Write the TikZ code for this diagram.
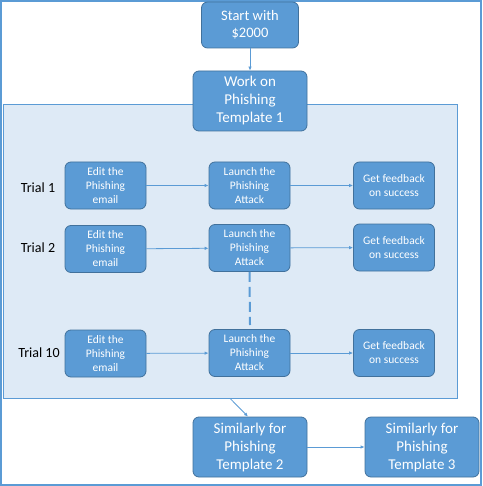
\documentclass[tikz,border=0pt]{standalone}
\usepackage{fontspec}
\setmainfont{Carlito}
\usetikzlibrary{arrows.meta}
\definecolor{boxfill}{HTML}{5B9BD5}
\definecolor{boxedge}{HTML}{41719C}
\definecolor{lightfill}{HTML}{DEEAF6}
\definecolor{linec}{HTML}{5B9BD5}
\tikzset{
  bigbox/.style={draw=boxedge, fill=boxfill, rounded corners=6pt, text=white, align=center, minimum width=114pt, minimum height=60pt, inner sep=1pt, font=\fontsize{15}{18}\selectfont, line width=0.8pt},
  smallbox/.style={draw=boxedge, fill=boxfill, rounded corners=6pt, text=white, align=center, minimum width=81pt, minimum height=47pt, inner sep=1pt, font=\fontsize{11.5}{14}\selectfont, line width=0.8pt},
  trial/.style={font=\fontsize{14}{16}\selectfont, text=black},
  conn/.style={draw=linec, line width=0.8pt, -{Latex[length=4pt,width=3.5pt]}},
}
\begin{document}
\begin{tikzpicture}[x=1pt,y=-1pt]
\useasboundingbox (0,0) rectangle (482,486);
\draw[linec, line width=2pt] (1,1) rectangle (481,485);
\node[draw=linec, fill=lightfill, line width=0.8pt, minimum width=454pt, minimum height=294pt, inner sep=0pt] (cont) at (230,251) {};
\node[bigbox, minimum width=97pt, minimum height=46pt, font=\fontsize{14.5}{17}\selectfont] (start) at (250,25) {Start with\\\$2000};
\node[bigbox] (work) at (250,101) {Work on\\Phishing\\Template 1};
\node[trial] (tr1) at (38,188) {Trial 1};
\node[trial] (tr2) at (38,248) {Trial 2};
\node[trial] (tr10) at (39,353) {Trial 10};
\node[smallbox] (e1) at (105.5,185.5) {Edit the\\Phishing\\email};
\node[smallbox] (l1) at (249.5,185.5) {Launch the\\Phishing\\Attack};
\node[smallbox] (f1) at (394,185.5) {Get feedback\\on success};
\node[smallbox] (e2) at (105.5,249) {Edit the\\Phishing\\email};
\node[smallbox] (l2) at (249.5,248) {Launch the\\Phishing\\Attack};
\node[smallbox] (f2) at (394,247.5) {Get feedback\\on success};
\node[smallbox] (e10) at (105.5,353.5) {Edit the\\Phishing\\email};
\node[smallbox] (l10) at (249.5,353) {Launch the\\Phishing\\Attack};
\node[smallbox] (f10) at (394,353) {Get feedback\\on success};
\node[bigbox] (t2) at (250,447) {Similarly for\\Phishing\\Template 2};
\node[bigbox] (t3) at (422,447) {Similarly for\\Phishing\\Template 3};
\coordinate (dend) at (250,325);
\draw[conn] (start) -- (work);
\draw[conn] (e1) -- (l1);
\draw[conn] (l1) -- (f1);
\draw[conn] (e2) -- (l2);
\draw[conn] (l2) -- (f2);
\draw[conn] (e10) -- (l10);
\draw[conn] (l10) -- (f10);
\draw[linec, line width=2pt, dash pattern=on 10pt off 5pt] (l2.south) -- (dend);
\draw[conn] (cont.south) -- ([xshift=-2pt]t2.north);
\draw[conn] (t2) -- (t3);
\end{tikzpicture}
\end{document}
